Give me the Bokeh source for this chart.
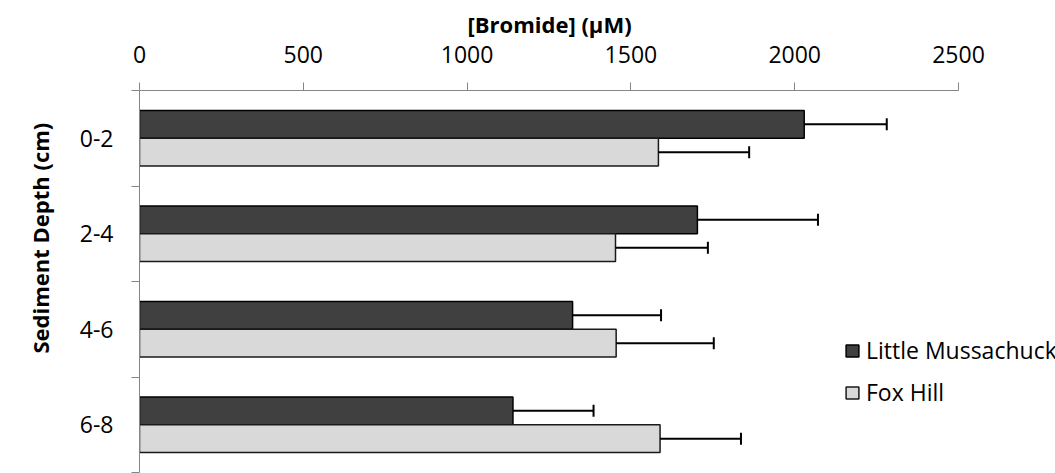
from bokeh.plotting import figure
from bokeh.models import (ColumnDataSource, FactorRange, Range1d, LinearAxis,
                          CategoricalAxis, FixedTicker, Whisker, TeeHead,
                          Legend, LegendItem, Title)
from bokeh.transform import dodge
from bokeh.embed import file_html
from bokeh.resources import INLINE

# Bromide concentration by sediment depth, two sites (mean and error)
depths = ["0-2", "2-4", "4-6", "6-8"]
little_mussachuck = [2029, 1703, 1322, 1140]
little_mussachuck_err = [252, 368, 270, 246]
fox_hill = [1584, 1453, 1455, 1589]
fox_hill_err = [277, 282, 298, 247]
x_ticks = [0, 500, 1000, 1500, 2000, 2500]

FONT = "Open Sans"
AXIS_GRAY = "#868686"

# the drawing area runs past 2500 to leave room for the legend
AXIS_W = 819
PX_PER_UNIT = AXIS_W / 2500
FRAME_W = 927
X_END = FRAME_W / PX_PER_UNIT

src = ColumnDataSource(dict(
    depth=depths,
    lm=little_mussachuck,
    lm_hi=[v + e for v, e in zip(little_mussachuck, little_mussachuck_err)],
    fh=fox_hill,
    fh_hi=[v + e for v, e in zip(fox_hill, fox_hill_err)],
))

p = figure(frame_width=FRAME_W, frame_height=382,
           output_backend="svg", toolbar_location=None,
           x_range=Range1d(0, X_END),
           y_range=FactorRange(factors=depths[::-1]),
           x_axis_location=None, y_axis_location=None,
           min_border_left=128, min_border_right=0,
           min_border_top=90, min_border_bottom=1)
p.outline_line_color = None
p.xgrid.visible = False
p.ygrid.visible = False

# value axis on top, limited to 0..2500
xa = LinearAxis(ticker=FixedTicker(ticks=x_ticks), bounds=(0, 2500),
                major_label_text_font=FONT, major_label_text_font_size="23px",
                major_label_text_color="#000000", major_label_standoff=20,
                axis_line_color=AXIS_GRAY, major_tick_line_color=AXIS_GRAY,
                major_tick_out=8, major_tick_in=0, minor_tick_line_color=None)
p.add_layout(xa, "above")

# axis title over the 0..2500 span (left offset puts its centre mid-axis)
p.add_layout(Title(text="[Bromide] (µM)", align="left",
                   offset=328, standoff=8,
                   text_font=FONT, text_font_style="bold",
                   text_font_size="22px", text_color="#000000"), "above")

# tick marks on the boundaries between depth categories
# (category synthetic coordinates run 0..4)
ea = LinearAxis(ticker=FixedTicker(ticks=[0, 1, 2, 3, 4]),
                major_label_overrides={0: "", 1: "", 2: "", 3: "", 4: ""},
                major_label_standoff=0,
                axis_line_color=AXIS_GRAY, major_tick_line_color=AXIS_GRAY,
                major_tick_out=8, major_tick_in=0, minor_tick_line_color=None)
p.add_layout(ea, "left")

# depth labels
ca = CategoricalAxis(major_label_text_font=FONT, major_label_text_font_size="23px",
                     major_label_text_color="#000000", major_label_standoff=18,
                     axis_line_color=None, major_tick_line_color=None,
                     major_tick_out=0, major_tick_in=0)
p.add_layout(ca, "left")

# vertical axis title, raised above the middle of the depth axis
p.add_layout(Title(text="Sediment Depth (cm)", align="left",
                   offset=119, standoff=44,
                   text_font=FONT, text_font_style="bold",
                   text_font_size="22px", text_color="#000000"), "left")

OFF = 0.1455
BAR_H = 0.291

r_lm = p.hbar(y=dodge("depth", OFF, range=p.y_range), left=0, right="lm",
              height=BAR_H, fill_color="#404040", line_color="#000000",
              line_width=1.5, source=src)
r_fh = p.hbar(y=dodge("depth", -OFF, range=p.y_range), left=0, right="fh",
              height=BAR_H, fill_color="#d9d9d9", line_color="#1a1a1a",
              line_width=1.5, source=src)

for key, off in (("lm", OFF), ("fh", -OFF)):
    w = Whisker(base=dodge("depth", off, range=p.y_range),
                lower=key, upper=key + "_hi", dimension="width", source=src,
                line_color="#000000", line_width=2, level="glyph",
                upper_head=TeeHead(size=12, line_color="#000000", line_width=2),
                lower_head=None)
    p.add_layout(w)

legend = Legend(items=[LegendItem(label="Little Mussachuck", renderers=[r_lm]),
                       LegendItem(label="Fox Hill", renderers=[r_fh])],
                location=(705, 64), orientation="vertical",
                padding=0, margin=0, spacing=10,
                glyph_width=16, glyph_height=15, label_standoff=6,
                label_text_font=FONT, label_text_font_size="23px",
                label_text_color="#000000",
                border_line_color=None, background_fill_alpha=0)
p.add_layout(legend)

open("out.html", "w").write(file_html(p, INLINE))
